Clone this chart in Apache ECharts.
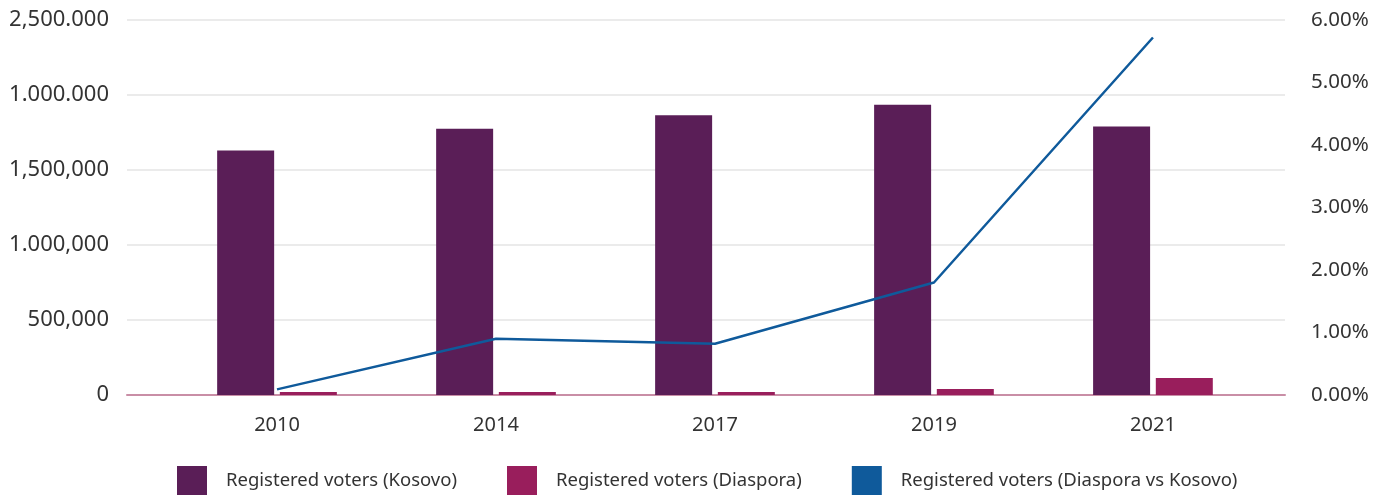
<!DOCTYPE html>
<html>
<head>
<meta charset="utf-8">
<script src="https://cdn.jsdelivr.net/npm/echarts@6/dist/echarts.min.js"></script>
<style>
  html, body { margin: 0; padding: 0; background: #fff; }
  #chart { width: 1389px; height: 495px; }
</style>
</head>
<body>
<div id="chart"></div>
<script>
const years = ['2010', '2014', '2017', '2019', '2021']
const kosovoVoters = [1630000, 1775000, 1865000, 1935000, 1790000]
const diasporaVoters = [20000, 20000, 20000, 40000, 113000]
const diasporaShare = [0.0009, 0.0090, 0.0082, 0.0180, 0.0572]
// left tick labels as printed in the source (including its typos)
const leftTickLabels = ['0', '500,000', '1.000,000', '1,500,000', '1.000.000', '2,500.000']

const font = '"Noto Sans", sans-serif'
const positions = years.map((y, i) => i)

const chart = echarts.init(document.getElementById('chart'))

const options = {
  animation: false,
  textStyle: { fontFamily: font },
  color: ['#5a1e57', '#991e5c', '#0f5a9b'],
  grid: { left: 127, right: 104, top: 20, bottom: 100 },
  legend: {
    bottom: 0,
    left: 177,
    padding: 0,
    itemWidth: 30,
    itemHeight: 29,
    itemGap: 50,
    textStyle: { fontSize: 18.5, color: '#333', fontFamily: font, padding: [0, 0, 0, 14] },
    data: [
      { name: 'Registered voters (Kosovo)', icon: 'rect' },
      { name: 'Registered voters (Diaspora)', icon: 'rect' },
      { name: 'Registered voters (Diaspora vs Kosovo)', icon: 'rect' }
    ]
  },
  xAxis: {
    type: 'value',
    min: -0.685,
    max: 4.603,
    splitLine: { show: false },
    axisTick: { show: false },
    axisLine: { show: true, onZero: false, lineStyle: { color: '#c98ea6', width: 2 } },
    axisLabel: {
      customValues: positions,
      formatter: v => years[Math.round(v)],
      fontSize: 20,
      color: '#333',
      margin: 20
    }
  },
  yAxis: [
    {
      type: 'value',
      min: 0,
      max: 2500000,
      interval: 500000,
      axisLine: { show: false },
      axisTick: { show: false },
      splitLine: { lineStyle: { color: '#ebebeb', width: 2 } },
      axisLabel: {
        fontSize: 22,
        color: '#333',
        margin: 18,
        formatter: v => leftTickLabels[Math.round(v / 500000)]
      }
    },
    {
      type: 'value',
      min: 0,
      max: 0.06,
      interval: 0.01,
      axisLine: { show: false },
      axisTick: { show: false },
      splitLine: { show: false },
      axisLabel: {
        fontSize: 20.5,
        color: '#333',
        margin: 26,
        formatter: v => (v * 100).toFixed(2) + '%'
      }
    }
  ],
  series: [
    {
      name: 'Registered voters (Kosovo)',
      type: 'bar',
      barWidth: 57,
      barGap: '10%',
      data: kosovoVoters.map((v, i) => [positions[i], v])
    },
    {
      name: 'Registered voters (Diaspora)',
      type: 'bar',
      barWidth: 57,
      barGap: '10%',
      data: diasporaVoters.map((v, i) => [positions[i], v])
    },
    {
      name: 'Registered voters (Diaspora vs Kosovo)',
      type: 'line',
      yAxisIndex: 1,
      showSymbol: false,
      lineStyle: { width: 2.5 },
      data: diasporaShare.map((v, i) => [positions[i], v])
    }
  ]
}

chart.setOption(options)
</script>
</body>
</html>
